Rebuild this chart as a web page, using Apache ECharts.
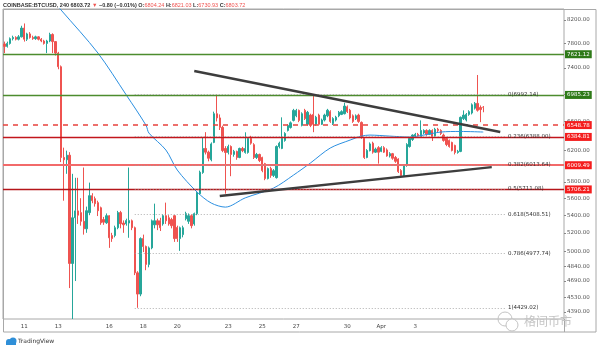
<!DOCTYPE html>
<html><head><meta charset="utf-8">
<script src="https://cdn.jsdelivr.net/npm/echarts@6/dist/echarts.min.js"></script>
<style>html,body{margin:0;padding:0;background:#fff}#c{width:600px;height:350px}</style>
</head><body><div id="c"></div><script>
// ---- data ----
// candles: [open, close, low, high], 4h bars
const candles = [
[7790,7750,7640,7830],[7750,7800,7730,7830],[7800,7880,7780,7900],[7880,7900,7850,7930],[7900,7870,7850,7920],
[7870,7910,7850,7940],[7910,8060,7900,8100],[8060,7870,7830,8140],[7870,7960,7840,7980],[7960,7900,7880,7990],
[7900,7880,7860,7930],[7880,7910,7860,7930],[7910,7870,7850,7920],[7870,7840,7820,7890],[7840,7800,7780,7860],
[7800,7840,7640,7860],[7840,7950,7820,7980],[7950,7830,7640,7970],[7830,7640,7600,7840],[7640,7420,7380,7660],
[7420,6110,6050,7440],[6110,6080,5570,6240],[6080,6140,5900,6200],[6140,4870,4620,6180],[4870,5370,4324,5900],
[5370,5450,4690,5850],[5450,5400,5300,5850],[5430,5330,5280,5600],[5330,5245,5180,5980],[5245,5452,5200,5500],
[5430,5630,5400,5790],[5630,5570,5540,5660],[5594,5535,5500,5620],[5547,5452,5390,5570],[5487,5313,5290,5500],
[5350,5320,5290,5380],[5313,5394,5300,5420],[5394,5145,5035,5400],[5170,5136,5100,5200],[5170,5257,5150,5280],
[5257,5430,5240,5450],[5430,5302,5250,5450],[5310,5290,5200,5340],[5302,5338,5280,5360],[5310,5338,5145,5980],
[5336,5257,5230,5350],[5257,4773,4750,5270],[4773,4561,4429,4790],[4561,5136,4540,5150],[5136,5050,4990,5180],
[5050,4860,4800,5060],[4860,5035,4830,5050],[5035,5336,5020,5350],[5290,5336,5250,5535],[5336,5290,5230,5360],
[5336,5257,5220,5370],[5300,5394,5280,5410],[5394,5336,5300,5547],[5370,5300,5280,5400],[5350,5280,5250,5370],
[5394,5136,5100,5400],[5260,5136,5100,5280],[5136,5257,5003,5270],[5180,5257,5150,5280],[5360,5418,5340,5440],
[5330,5394,5300,5420],[5394,5280,5250,5410],[5300,5418,5280,5430],[5418,5667,5400,5680],[5654,5920,5640,5940],
[5916,6229,5900,6379],[6229,6180,6150,6450],[6180,6100,6060,6200],[6080,6290,6060,6310],[6310,6710,6300,6740],
[6710,6650,6600,6990],[6650,6517,6480,6700],[6517,6202,6180,6540],[6229,6176,5654,6260],[6176,6255,6150,6280],
[6255,6150,5870,6270],[6150,6190,6120,6210],[6190,6110,6080,6200],[6110,6229,6100,6240],[6229,6200,6180,6250],
[6176,6229,6160,6448],[6176,6365,6160,6380],[6365,6300,6280,6400],[6280,6110,6090,6300],[6110,6150,6090,6170],
[6150,6070,6050,6160],[6110,5941,5920,6120],[6030,5840,5820,6040],[5840,5966,5830,5980],[5966,5880,5850,5990],
[5880,5940,5860,5960],[5852,6255,5840,6270],[6255,6300,6230,6320],[6229,6365,6220,6658],[6337,6432,6320,6450],
[6474,6544,6460,6560],[6515,6580,6500,6600],[6615,6758,6600,6780],[6680,6758,6660,6780],[6758,6615,6590,6770],
[6544,6710,6530,6730],[6758,6640,6620,6780],[6560,6730,6540,6750],[6690,6544,6520,6710],[6700,6560,6450,6985],
[6560,6660,6540,6680],[6690,6560,6540,6710],[6560,6620,6550,6640],[6620,6690,6600,6710],[6680,6760,6660,6780],
[6740,6600,6580,6760],[6570,6640,6550,6660],[6620,6660,6600,6680],[6680,6730,6660,6750],[6700,6740,6690,6760],
[6710,6820,6700,6869],[6810,6740,6720,6830],[6760,6650,6630,6780],[6680,6600,6580,6700],[6640,6680,6620,6700],
[6690,6600,6580,6710],[6586,6379,6360,6600],[6365,6110,6090,6380],[6110,6202,6100,6220],[6200,6290,6190,6310],
[6300,6180,6160,6320],[6180,6220,6170,6240],[6240,6180,6030,6260],[6190,6240,6180,6260],[6240,6180,6170,6260],
[6210,6130,6120,6230],[6130,6160,6110,6180],[6160,6100,6080,6170],[6110,6060,6040,6130],[6090,5928,5910,6100],
[5941,5878,5850,5960],[5878,6000,5860,6010],[6006,6282,5990,6300],[6255,6365,6240,6380],[6350,6410,6330,6420],
[6380,6420,6370,6440],[6420,6400,6380,6440],[6390,6474,6380,6615],[6440,6474,6420,6490],[6474,6420,6400,6490],
[6420,6474,6410,6490],[6474,6390,6330,6490],[6400,6490,6390,6510],[6490,6474,6450,6510],[6474,6432,6410,6490],
[6410,6337,6320,6430],[6365,6282,6260,6380],[6337,6255,6240,6350],[6310,6202,6190,6320],[6270,6176,6150,6280],
[6176,6190,6160,6210],[6190,6658,6180,6670],[6640,6690,6620,6758],[6620,6700,6600,6720],[6700,6740,6680,6760],
[6720,6840,6700,6860],[6790,6860,6770,6880],[6860,6760,6740,7290],[6800,6770,6590,6830],[6804.24,6803.72,6730.93,6821.03]
];
// moving average readings [bar index, value]
const maPoints = [[14,8730],[20.3,8377],[33,7641],[42.6,6985],[49.6,6544],[51.4,6438],[56.7,6208],[61.3,5948],
[68,5674],[73.3,5542],[77.5,5494],[85,5604],[94.5,5723],[101.9,5883],[107.9,6038],[114.9,6235],[122,6342],
[126.2,6396],[129,6410],[136.1,6396],[143.2,6383],[147.8,6410],[153.8,6452],[160.8,6460],[169,6452]];
const totalSlots = 198;
const dayLabels = [[7,'11'],[19,'13'],[37,'16'],[49,'18'],[61,'20'],[79,'23'],[91,'25'],[103,'27'],[121,'30'],[133,'Apr'],[145,'3']];
const yTicks = [8200,7800,7400,7000,6600,6200,5800,5600,5400,5200,5000,4840,4690,4530,4390];
const yMin = 4324, yMax = 8396;
const levelValues = [7621.12, 6985.23, 6548.78, 6384.81, 6009.49, 5706.21];
const lastPrice = 6803.72;
const fibRatios = ['0','0.236','0.382','0.5','0.618','0.786','1'];
const fibValues = [6992.14, 6388.00, 6013.64, 5711.08, 5408.51, 4977.74, 4429.02];
const fibSpan = [46, 176.7];
const trendUpper = [[66.6,7352],[174.6,6452]];
const trendLower = [[76.1,5626],[172.1,5985]];
const header = {symbol:'COINBASE:BTCUSD, 240', last:'6803.72', change:'\u22120.80 (\u22120.01%)', O:'6804.24', H:'6821.03', L:'6730.93', C:'6803.72'};

// ---- build ----
const cats = new Array(totalSlots).fill('');
dayLabels.forEach(([i, s]) => cats[i] = s);
const levelStyles = [
  {line:'#4d8c2e', box:'#2e7a18', w:1.3, t:'solid'},
  {line:'#4d8c2e', box:'#2e7a18', w:1.3, t:'solid'},
  {line:'#e8423c', box:'#f41d1d', w:1.5, t:[5,5]},
  {line:'#c2161c', box:'#f41d1d', w:1.3, t:'solid'},
  {line:'#f26a6a', box:'#f41d1d', w:2, t:'solid'},
  {line:'#b5151a', box:'#f41d1d', w:1.3, t:'solid'}
];
const boxLabel = (bg) => ({show:true, position:'end', distance:1, formatter: p => Number(p.value).toFixed(2),
  color:'#fff', backgroundColor:bg, fontSize:5.5, fontFamily:'DejaVu Sans', padding:[1,2,1,2]});
const ml = [];
levelValues.forEach((v, k) => {
  const s = levelStyles[k];
  ml.push({yAxis:v, lineStyle:{color:s.line, width:s.w, type:s.t}, label:boxLabel(s.box)});
});
ml.push({yAxis:lastPrice, lineStyle:{opacity:0, width:0}, label:boxLabel('#f07878')});
fibValues.forEach((v, k) => {
  ml.push([{coord:[fibSpan[0], v], name: fibRatios[k] + '(' + v.toFixed(2) + ')',
    lineStyle:{color:'#9a9a9a', width:0.8, type:[1,2]},
    label:{show:true, position:'end', distance:2, formatter:'{b}', color:'#333', fontSize:5.5, fontFamily:'DejaVu Sans'}},
    {coord:[fibSpan[1], v]}]);
});
[trendUpper, trendLower].forEach(t => {
  ml.push([{coord:t[0], lineStyle:{color:'#3d3d3d', width:2.4, type:'solid'}, label:{show:false}}, {coord:t[1]}]);
});

const chart = echarts.init(document.getElementById('c'), null, {renderer:'canvas'});
chart.setOption({
  animation:false,
  backgroundColor:'#fff',
  grid:{left:3, right:36, top:9, bottom:31, show:true, borderColor:'#a8a8a8', borderWidth:1},
  xAxis:{type:'category', data:cats, boundaryGap:true,
    axisLine:{show:false}, axisTick:{show:false}, splitLine:{show:false},
    axisLabel:{interval:0, fontSize:5.5, color:'#444', margin:5, fontFamily:'DejaVu Sans'}},
  yAxis:{type:'log', position:'right', min:yMin, max:yMax,
    axisLine:{show:false}, splitLine:{show:false},
    axisTick:{show:true, customValues:yTicks, length:2, lineStyle:{color:'#888'}},
    axisLabel:{customValues:yTicks, formatter:v => Number(v).toFixed(2), fontSize:5.5, color:'#555', margin:3, fontFamily:'DejaVu Sans'}},
  series:[
    {type:'line', data:maPoints, showSymbol:false, smooth:0.3, clip:true, z:3,
      lineStyle:{color:'#2b8fe0', width:1}},
    {type:'candlestick', data:candles, barWidth:'70%', clip:true, z:2,
      itemStyle:{color:'#26a69a', color0:'#ef5350', borderColor:'#26a69a', borderColor0:'#ef5350', borderWidth:1},
      markLine:{silent:true, symbol:['none','none'], animation:false, precision:2, data:ml}}
  ],
  graphic:[
    {type:'rect', shape:{x:3.5, y:9.5, width:592.5, height:322.5}, style:{fill:null, stroke:'#a8a8a8', lineWidth:1}, silent:true},
    {type:'line', shape:{x1:564.5, y1:319, x2:564.5, y2:332}, style:{stroke:'#a8a8a8', lineWidth:1}},
    {type:'text', left:3, top:2, style:{
      text:'{a|' + header.symbol + ' ' + header.last + ' }{r|\u25BC}{a| ' + header.change + ' O:}{r|' + header.O + '}{a| H:}{r|' + header.H + '}{a| L:}{r|' + header.L + '}{a| C:}{r|' + header.C + '}',
      rich:{a:{fill:'#333', fontSize:5.5, fontFamily:'Liberation Sans', fontWeight:'bold'}, r:{fill:'#ef5350', fontSize:5.5, fontFamily:'Liberation Sans'}}}},
    {type:'circle', shape:{cx:9, cy:342, r:3}, style:{fill:'#2f8fd8'}},
    {type:'circle', shape:{cx:13, cy:341, r:3.5}, style:{fill:'#2f8fd8'}},
    {type:'rect', shape:{x:6, y:342, width:10, height:3}, style:{fill:'#2f8fd8'}},
    {type:'text', left:18, top:338, style:{text:'TradingView', fill:'#333', fontSize:6, fontFamily:'DejaVu Sans'}},
    {type:'circle', shape:{cx:505, cy:319, r:7}, style:{fill:null, stroke:'#c4c4c4', lineWidth:1}},
    {type:'circle', shape:{cx:512, cy:325, r:6}, style:{fill:'#fff', stroke:'#c4c4c4', lineWidth:1}},
    {type:'text', left:524, top:315, style:{text:'格间币市', fill:'#c4c4c4', fontSize:12, fontFamily:'Noto Sans CJK SC'}}
  ]
});
</script></body></html>
